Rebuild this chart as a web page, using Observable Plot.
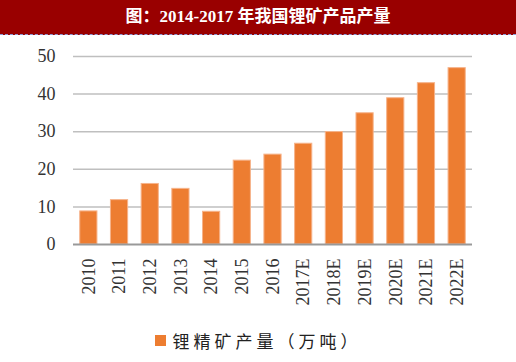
<!DOCTYPE html>
<html><head><meta charset="utf-8">
<script src="https://cdn.jsdelivr.net/npm/d3@7"></script>
<script src="https://cdn.jsdelivr.net/npm/@observablehq/plot@0.6"></script>
<style>
body{margin:0;background:#fff;width:516px;}
#title{height:34px;background:#990000;color:#fff;font-weight:bold;font-size:17px;font-family:"Liberation Serif","Noto Sans CJK SC",serif;text-align:center;line-height:34px;border-bottom:1px dashed #8e9bd6;}
#chart svg{display:block;}
#legend{display:flex;justify-content:center;align-items:center;margin-top:9px;height:22px;font-family:"Noto Sans CJK SC",sans-serif;font-size:17px;letter-spacing:4px;color:#222;}
#legend .sw{width:11px;height:11px;background:#ED7D31;margin-right:7px;}
</style></head>
<body>
<div id="title">图：2014-2017 年我国锂矿产品产量</div>
<div id="chart"></div>
<div id="legend"><span class="sw"></span><span>锂精矿产量（万吨）</span></div>
<script>
const years = ["2010","2011","2012","2013","2014","2015","2016","2017E","2018E","2019E","2020E","2021E","2022E"];
const output = [8.8, 11.8, 16.1, 14.8, 8.7, 22.3, 23.9, 26.8, 29.9, 34.9, 38.9, 42.9, 46.9];
const yTicks = [0, 10, 20, 30, 40, 50];
const seriesName = "锂精矿产量（万吨）";

const data = years.map((y, i) => ({year: y, value: output[i]}));

const chart = Plot.plot({
  width: 516,
  height: 285,
  marginLeft: 73,
  marginRight: 44,
  marginTop: 21,
  marginBottom: 76,
  style: {fontFamily: "Liberation Serif, serif", background: "#fff"},
  x: {domain: years, paddingInner: 0.44, paddingOuter: 0.22, round: false, label: null},
  y: {domain: [0, 50], label: null},
  marks: [
    Plot.gridY(yTicks.filter(d => d > 0), {stroke: "#bfbfbf", strokeOpacity: 1, strokeWidth: 1.5}),
    Plot.barY(data, {x: "year", y: "value", fill: "#ED7D31", stroke: "#f6b38a", strokeWidth: 1}),
    Plot.ruleY([0], {stroke: "#999", strokeWidth: 2}),
    Plot.axisY({ticks: yTicks, tickSize: 0, tickPadding: 18, fontSize: 18, fill: "#333", label: null}),
    Plot.axisX({tickSize: 0, tickRotate: -90, tickPadding: 14, fontSize: 18, fill: "#333", label: null})
  ]
});
document.getElementById("chart").appendChild(chart);
</script>
</body></html>
